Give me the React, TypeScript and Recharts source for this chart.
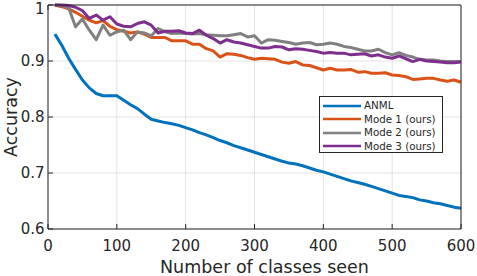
import React from 'react';
import { LineChart, Line, XAxis, YAxis, CartesianGrid, Legend } from 'recharts';

const classesSeen = [10, 20, 30, 40, 50, 60, 70, 80, 90, 100, 110, 120, 130, 140, 150, 160, 170, 180, 190, 200, 210, 220, 230, 240, 250, 260, 270, 280, 290, 300, 310, 320, 330, 340, 350, 360, 370, 380, 390, 400, 410, 420, 430, 440, 450, 460, 470, 480, 490, 500, 510, 520, 530, 540, 550, 560, 570, 580, 590, 600];

const anml = [0.948, 0.928, 0.905, 0.885, 0.866, 0.852, 0.842, 0.838, 0.838, 0.838, 0.830, 0.822, 0.815, 0.805, 0.796, 0.793, 0.790, 0.788, 0.785, 0.781, 0.777, 0.772, 0.768, 0.763, 0.758, 0.754, 0.749, 0.745, 0.741, 0.737, 0.733, 0.729, 0.725, 0.721, 0.718, 0.716, 0.713, 0.709, 0.705, 0.702, 0.698, 0.694, 0.690, 0.686, 0.683, 0.680, 0.676, 0.672, 0.668, 0.664, 0.660, 0.658, 0.656, 0.652, 0.650, 0.647, 0.645, 0.642, 0.639, 0.637];

const mode1 = [1.000, 0.997, 0.993, 0.987, 0.980, 0.973, 0.968, 0.972, 0.962, 0.956, 0.953, 0.950, 0.952, 0.948, 0.942, 0.942, 0.942, 0.936, 0.936, 0.936, 0.930, 0.930, 0.922, 0.918, 0.907, 0.913, 0.912, 0.910, 0.906, 0.903, 0.905, 0.904, 0.903, 0.898, 0.896, 0.899, 0.893, 0.892, 0.888, 0.884, 0.887, 0.884, 0.884, 0.885, 0.880, 0.881, 0.878, 0.878, 0.879, 0.875, 0.874, 0.872, 0.867, 0.868, 0.869, 0.869, 0.866, 0.864, 0.866, 0.862];

const mode2 = [1.000, 0.999, 0.995, 0.961, 0.975, 0.955, 0.938, 0.964, 0.946, 0.952, 0.955, 0.938, 0.952, 0.950, 0.945, 0.958, 0.952, 0.949, 0.950, 0.949, 0.948, 0.949, 0.947, 0.946, 0.945, 0.945, 0.947, 0.949, 0.943, 0.945, 0.932, 0.938, 0.937, 0.935, 0.933, 0.930, 0.932, 0.933, 0.929, 0.930, 0.932, 0.930, 0.926, 0.924, 0.921, 0.918, 0.918, 0.921, 0.915, 0.911, 0.915, 0.910, 0.907, 0.903, 0.902, 0.902, 0.900, 0.899, 0.899, 0.899];

const mode3 = [1.000, 1.000, 0.999, 0.996, 0.990, 0.976, 0.982, 0.973, 0.979, 0.966, 0.962, 0.961, 0.967, 0.970, 0.964, 0.950, 0.953, 0.953, 0.954, 0.950, 0.949, 0.955, 0.946, 0.940, 0.932, 0.938, 0.934, 0.932, 0.929, 0.926, 0.923, 0.923, 0.926, 0.925, 0.920, 0.922, 0.921, 0.919, 0.917, 0.914, 0.915, 0.914, 0.914, 0.911, 0.912, 0.913, 0.909, 0.911, 0.907, 0.905, 0.909, 0.904, 0.899, 0.903, 0.900, 0.899, 0.898, 0.897, 0.897, 0.898];

const xTicks = [0, 100, 200, 300, 400, 500, 600];
const yTicks = [0.6, 0.7, 0.8, 0.9, 1];
const seriesNames = ['ANML', 'Mode 1 (ours)', 'Mode 2 (ours)', 'Mode 3 (ours)'];
const seriesColors = ['#0072BD', '#D95319', '#808080', '#7E2F8E'];
const xTitle = 'Number of classes seen';
const yTitle = 'Accuracy';

const data = classesSeen.map((c, i) => ({
  x: c,
  anml: anml[i],
  mode1: mode1[i],
  mode2: mode2[i],
  mode3: mode3[i],
}));

const FONT = 'DejaVu Sans, Verdana, sans-serif';
const AXIS = '#262626';

const fmtY = (v: number) => (v === 1 ? '1' : v.toFixed(1));

const LegendBox = (props: any) => {
  const payload = props.payload || [];
  return (
    <div
      style={{
        border: '1px solid #262626',
        background: '#fff',
        width: 122,
        height: 55,
        boxSizing: 'content-box',
        padding: 0,
        fontFamily: FONT,
        fontSize: 10.3,
        color: '#262626',
      }}
    >
      <div style={{ paddingTop: 2 }}>
        {payload.map((p: any) => (
          <div key={p.value} style={{ display: 'flex', alignItems: 'center', height: 13.5, lineHeight: '13.5px' }}>
            <svg width={44} height={6} style={{ display: 'block' }}>
              <line x1={3} x2={41} y1={3} y2={3} stroke={p.color} strokeWidth={2.5} />
            </svg>
            <span style={{ whiteSpace: 'nowrap' }}>{p.value}</span>
          </div>
        ))}
      </div>
    </div>
  );
};

const XTitle = (props: any) => {
  const vb = props.viewBox || {};
  const cx = vb.x + vb.width / 2 + 10;
  const y = vb.y + vb.height - 3;
  return (
    <text x={cx} y={y} textAnchor="middle" fill={AXIS} fontSize={17.5} fontFamily={FONT}>
      {xTitle}
    </text>
  );
};

const YTitle = (props: any) => {
  const vb = props.viewBox || {};
  const cx = vb.x + 11;
  const cy = vb.y + vb.height / 2;
  return (
    <text
      x={cx}
      y={cy}
      transform={`rotate(-90 ${cx} ${cy})`}
      textAnchor="middle"
      dominantBaseline="central"
      fill={AXIS}
      fontSize={17.5}
      fontFamily={FONT}
    >
      {yTitle}
    </text>
  );
};

const EmptyTick = () => <g />;

export default function App() {
  return (
    <div style={{ position: 'absolute', left: 0, top: 0, width: 477, height: 276, background: '#fff' }}>
      <LineChart
        width={477}
        height={276}
        data={data}
        margin={{ top: 4, right: 15, left: 0, bottom: 0 }}
        style={{ fontFamily: FONT }}
      >
        <CartesianGrid stroke="#e3e3e3" strokeWidth={1} />
        <XAxis
          dataKey="x"
          type="number"
          domain={[0, 600]}
          ticks={xTicks}
          height={47}
          stroke={AXIS}
          tickSize={-5}
          tickMargin={16}
          tick={{ fill: AXIS, fontSize: 15, fontFamily: FONT }}
          label={<XTitle />}
        />
        <XAxis
          xAxisId="top"
          orientation="top"
          type="number"
          domain={[0, 600]}
          ticks={xTicks}
          height={1}
          stroke={AXIS}
          tickSize={-5}
          tick={EmptyTick}
        />
        <YAxis
          type="number"
          domain={[0.6, 1]}
          ticks={yTicks}
          width={48}
          stroke={AXIS}
          tickSize={-5}
          tickMargin={8.5}
          tickFormatter={fmtY}
          tick={{ fill: AXIS, fontSize: 15, fontFamily: FONT }}
          label={<YTitle />}
        />
        <YAxis
          yAxisId="right"
          orientation="right"
          type="number"
          domain={[0.6, 1]}
          ticks={yTicks}
          width={1}
          stroke={AXIS}
          tickSize={-5}
          tick={EmptyTick}
        />
        <Legend
          layout="horizontal"
          verticalAlign="middle"
          align="center"
          content={LegendBox}
          wrapperStyle={{ position: 'absolute', left: 319, top: 96, width: 124, height: 57 }}
        />
        <Line name={seriesNames[0]} dataKey="anml" stroke={seriesColors[0]} strokeWidth={3} dot={false} strokeLinejoin="round" isAnimationActive={false} />
        <Line name={seriesNames[1]} dataKey="mode1" stroke={seriesColors[1]} strokeWidth={3} dot={false} strokeLinejoin="round" isAnimationActive={false} />
        <Line name={seriesNames[2]} dataKey="mode2" stroke={seriesColors[2]} strokeWidth={3} dot={false} strokeLinejoin="round" isAnimationActive={false} />
        <Line name={seriesNames[3]} dataKey="mode3" stroke={seriesColors[3]} strokeWidth={3} dot={false} strokeLinejoin="round" isAnimationActive={false} />
      </LineChart>
    </div>
  );
}
